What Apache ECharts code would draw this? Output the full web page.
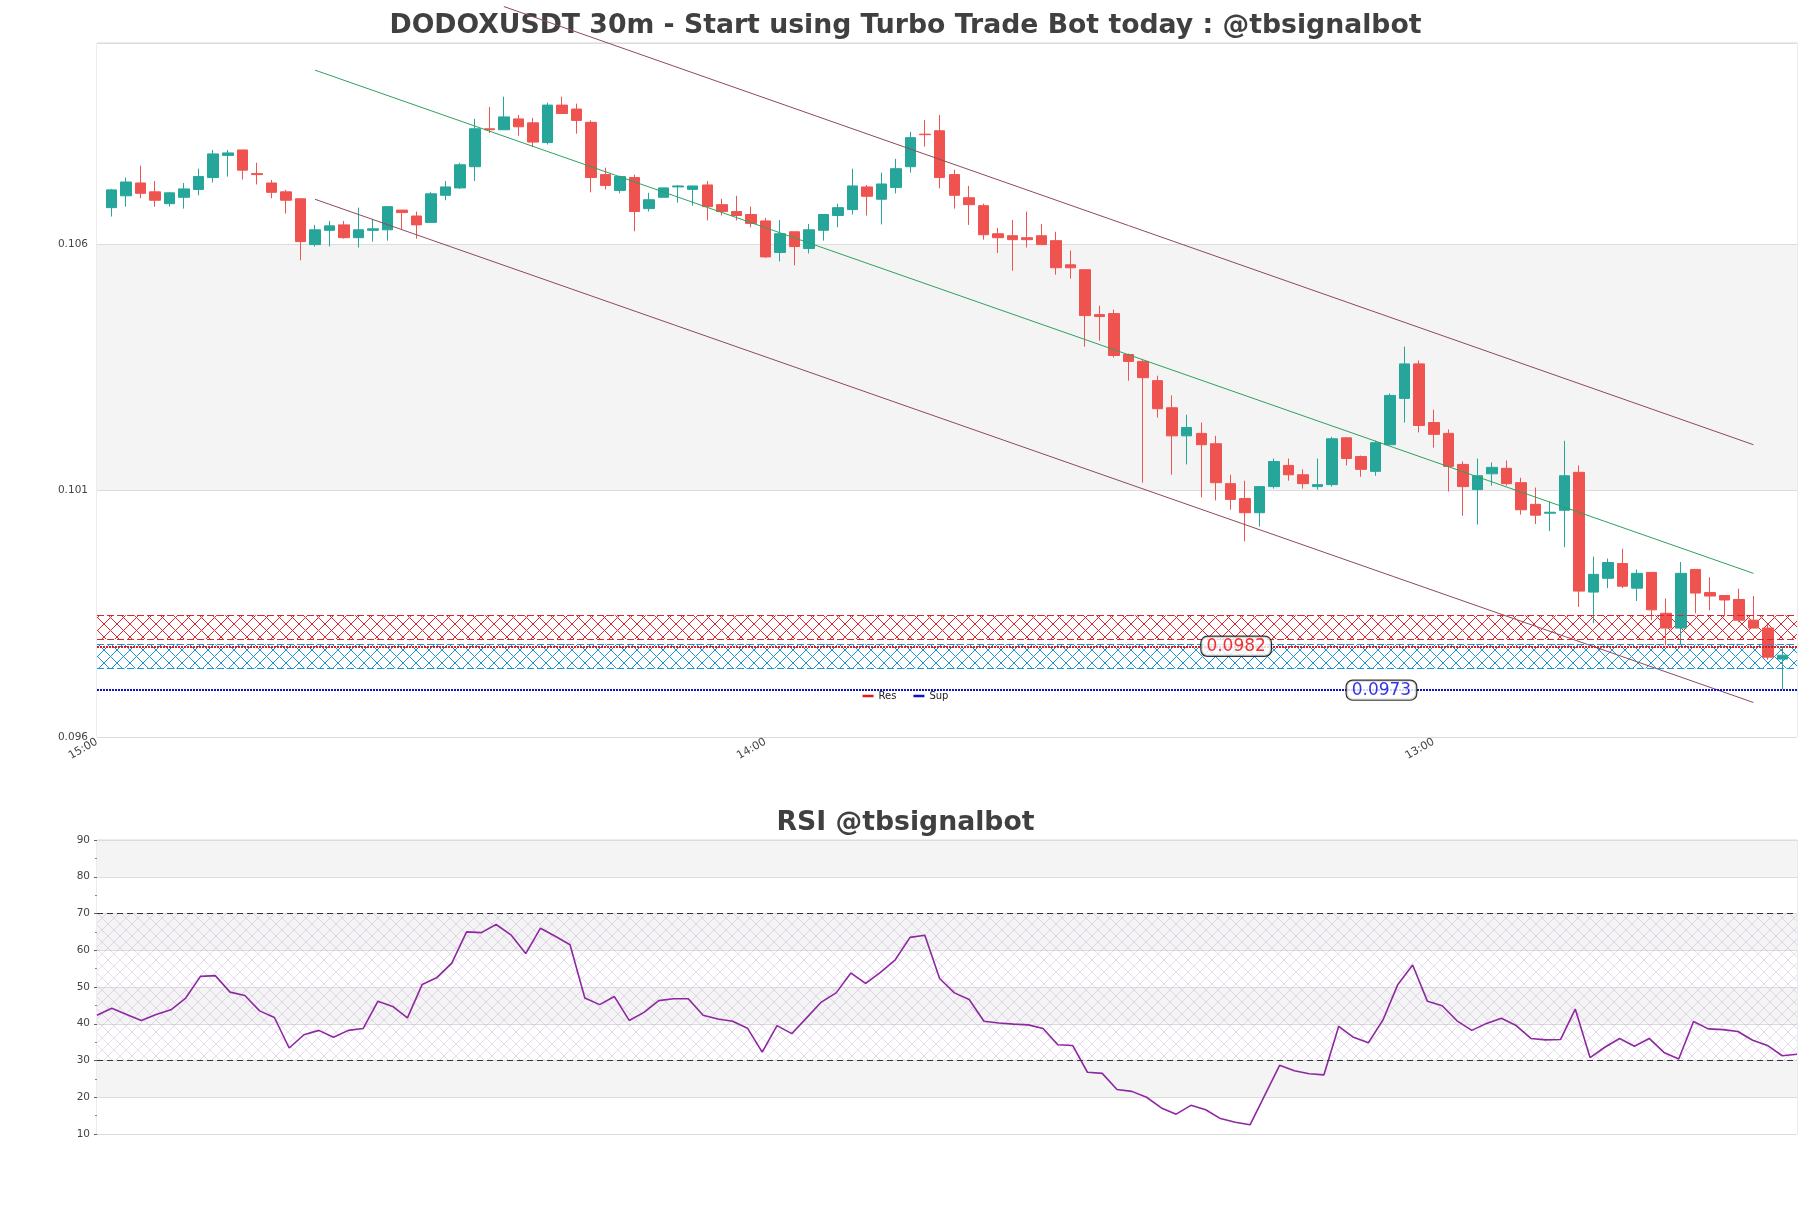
<!DOCTYPE html>
<html><head><meta charset="utf-8">
<script src="https://cdn.jsdelivr.net/npm/echarts@6/dist/echarts.min.js"></script>
<style>html,body{margin:0;padding:0;background:#fff;}#c{width:1811px;height:1208px;}</style>
</head><body><div id="c"></div>
<script>
// ---------------- DATA ----------------
const opens = [0.10674,0.10698,0.10724,0.10706,0.10682,0.10695,0.10711,0.10735,0.10780,0.10791,
0.10743,0.10724,0.10706,0.10692,0.10599,0.10628,0.10639,0.10613,0.10628,0.10629,
0.10669,0.10657,0.10644,0.10699,0.10714,0.10757,0.10834,0.10832,0.10854,0.10846,
0.10806,0.10882,0.10874,0.10847,0.10741,0.10709,0.10735,0.10672,0.10695,0.10716,
0.10711,0.10720,0.10680,0.10666,0.10660,0.10647,0.10583,0.10625,0.10591,0.10628,
0.10658,0.10670,0.10716,0.10691,0.10715,0.10757,0.10823,0.10830,0.10741,0.10694,
0.10678,0.10621,0.10617,0.10613,0.10617,0.10607,0.10558,0.10548,0.10457,0.10459,
0.10376,0.10362,0.10323,0.10268,0.10211,0.10216,0.10195,0.10114,0.10084,0.10055,
0.10108,0.10151,0.10132,0.10108,0.10112,0.10207,0.10169,0.10139,0.10193,0.10287,
0.10357,0.10238,0.10216,0.10153,0.10102,0.10134,0.10145,0.10116,0.10072,0.10054,
0.10060,0.10137,0.09894,0.09922,0.09952,0.09902,0.09934,0.09851,0.09821,0.09940,
0.09893,0.09887,0.09879,0.09837,0.09821,0.09758];
const highs = [0.10712,0.10735,0.10759,0.10728,0.10706,0.10724,0.10753,0.10791,0.10791,0.10791,
0.10765,0.10730,0.10710,0.10692,0.10639,0.10647,0.10647,0.10674,0.10651,0.10676,
0.10669,0.10666,0.10706,0.10728,0.10765,0.10854,0.10878,0.10899,0.10862,0.10856,
0.10887,0.10899,0.10885,0.10851,0.10755,0.10739,0.10741,0.10704,0.10714,0.10720,
0.10718,0.10728,0.10692,0.10698,0.10676,0.10653,0.10649,0.10625,0.10641,0.10660,
0.10682,0.10753,0.10720,0.10745,0.10773,0.10828,0.10852,0.10862,0.10751,0.10718,
0.10682,0.10633,0.10649,0.10666,0.10641,0.10625,0.10587,0.10548,0.10475,0.10467,
0.10378,0.10366,0.10333,0.10293,0.10254,0.10238,0.10211,0.10132,0.10120,0.10108,
0.10165,0.10165,0.10143,0.10165,0.10209,0.10207,0.10171,0.10201,0.10297,0.10392,
0.10364,0.10264,0.10224,0.10159,0.10165,0.10157,0.10161,0.10126,0.10106,0.10078,
0.10201,0.10151,0.09966,0.09962,0.09982,0.09940,0.09934,0.09881,0.09955,0.09940,
0.09924,0.09887,0.09901,0.09886,0.09827,0.09784];
const lows = [0.10656,0.10676,0.10693,0.10676,0.10676,0.10672,0.10699,0.10725,0.10737,0.10731,
0.10721,0.10693,0.10662,0.10567,0.10595,0.10595,0.10611,0.10593,0.10605,0.10607,
0.10631,0.10611,0.10644,0.10689,0.10712,0.10728,0.10825,0.10832,0.10820,0.10797,
0.10802,0.10865,0.10824,0.10705,0.10711,0.10703,0.10626,0.10666,0.10695,0.10684,
0.10678,0.10648,0.10658,0.10648,0.10634,0.10572,0.10565,0.10557,0.10581,0.10607,
0.10634,0.10660,0.10658,0.10640,0.10703,0.10745,0.10798,0.10713,0.10672,0.10639,
0.10609,0.10582,0.10546,0.10593,0.10599,0.10538,0.10530,0.10392,0.10404,0.10370,
0.10323,0.10116,0.10248,0.10132,0.10153,0.10086,0.10080,0.10061,0.09997,0.10027,
0.10104,0.10120,0.10104,0.10102,0.10108,0.10151,0.10128,0.10130,0.10193,0.10238,
0.10218,0.10187,0.10098,0.10049,0.10031,0.10110,0.10110,0.10051,0.10032,0.10018,
0.09985,0.09864,0.09831,0.09902,0.09902,0.09876,0.09837,0.09786,0.09788,0.09851,
0.09857,0.09845,0.09833,0.09821,0.09757,0.09697];
const closes = [0.10710,0.10726,0.10703,0.10689,0.10704,0.10712,0.10737,0.10783,0.10785,0.10750,
0.10741,0.10705,0.10689,0.10605,0.10629,0.10637,0.10613,0.10629,0.10631,0.10676,
0.10664,0.10639,0.10702,0.10716,0.10761,0.10834,0.10832,0.10858,0.10838,0.10807,
0.10882,0.10865,0.10851,0.10735,0.10719,0.10737,0.10666,0.10690,0.10714,0.10718,
0.10718,0.10676,0.10666,0.10658,0.10642,0.10574,0.10621,0.10595,0.10629,0.10660,
0.10674,0.10718,0.10697,0.10722,0.10753,0.10816,0.10822,0.10735,0.10699,0.10680,
0.10619,0.10613,0.10609,0.10609,0.10599,0.10552,0.10552,0.10455,0.10453,0.10374,
0.10362,0.10329,0.10266,0.10211,0.10228,0.10193,0.10116,0.10082,0.10055,0.10108,
0.10159,0.10132,0.10114,0.10112,0.10205,0.10165,0.10143,0.10197,0.10293,0.10357,
0.10232,0.10214,0.10149,0.10108,0.10130,0.10147,0.10114,0.10061,0.10050,0.10056,
0.10130,0.09896,0.09930,0.09954,0.09906,0.09932,0.09858,0.09821,0.09932,0.09892,
0.09886,0.09878,0.09837,0.09821,0.09762,0.09766];

const rsiValues = [42.3,44.2,42.5,40.9,42.5,43.8,47.0,52.9,53.1,48.6,
47.7,43.5,41.7,33.4,37.0,38.2,36.3,38.2,38.7,46.1,
44.7,41.6,50.7,52.6,56.5,65.0,64.8,67.0,64.2,59.1,
66.0,63.8,61.5,47.0,45.2,47.4,40.9,43.1,46.3,46.8,
46.8,42.3,41.3,40.7,38.8,32.3,39.5,37.3,41.6,45.9,
48.4,53.8,51.0,54.0,57.4,63.5,64.1,52.3,48.4,46.6,
40.7,40.2,39.9,39.7,38.7,34.3,34.1,26.8,26.5,22.1,
21.6,20.0,17.1,15.4,17.8,16.6,14.2,13.2,12.5,20.6,
28.7,27.2,26.4,26.1,39.3,36.3,34.8,41.1,50.7,56.0,
46.1,44.9,40.8,38.2,40.1,41.5,39.5,36.0,35.6,35.7,
44.0,30.8,33.6,36.0,33.9,36.0,32.2,30.4,40.6,38.6,
38.4,37.9,35.5,34.1,31.3,31.7];

// x tick labels (candle index, -1 = slot before first candle)
const xTickIndex = [-1, 45, 91];
const xTickLabels = ['15:00', '14:00', '13:00'];

// regression channel: [candle index, price] at both ends
const midLineIdx = [14, 113];   const midLineVal = [0.10953, 0.09932];
const upperLineIdx = [27, 113]; const upperLineVal = [0.11082, 0.10193];
const lowerLineIdx = [14, 113]; const lowerLineVal = [0.10691, 0.09670];

// resistance / support
const resZone = [0.09799, 0.09847];
const supZone = [0.09739, 0.09788];
const resLevel = 0.09784, supLevel = 0.09695;
const resText = '0.0982', supText = '0.0973';
const resTextIdx = 77.4, supTextIdx = 87.4;

const rsiBands = [30, 70];

// ---------------- HELPERS ----------------
function hatch(color, size, lw) {
  const c = document.createElement('canvas');
  c.width = size; c.height = size;
  const g = c.getContext('2d');
  g.strokeStyle = color; g.lineWidth = lw;
  g.beginPath();
  g.moveTo(-1, -1); g.lineTo(size + 1, size + 1);
  g.moveTo(size + 1, -1); g.lineTo(-1, size + 1);
  g.stroke();
  return { image: c, repeat: 'repeat' };
}

const N = opens.length;
const candleData = [];
for (let i = 0; i < N; i++) candleData.push([i, opens[i], closes[i], lows[i], highs[i]]);
const rsiData = rsiValues.map((v, j) => [j, v]);
const lineOf = (idx, val) => idx.map((x, k) => [x, val[k]]);

const UP = '#26a69a', DOWN = '#ef5350';
const FONT = 'DejaVu Sans';

const chart = echarts.init(document.getElementById('c'), null, { renderer: 'canvas', width: 1811, height: 1208 });

const option = {
  animation: false,
  backgroundColor: '#ffffff',
  textStyle: { fontFamily: FONT },
  title: [
    { text: 'DODOXUSDT 30m - Start using Turbo Trade Bot today : @tbsignalbot', left: 'center', top: 8,
      textStyle: { fontSize: 26.7, fontWeight: 'bold', color: '#404040', fontFamily: FONT } },
    { text: 'RSI @tbsignalbot', left: 'center', top: 805,
      textStyle: { fontSize: 26.7, fontWeight: 'bold', color: '#404040', fontFamily: FONT } }
  ],
  legend: {
    data: ['Res', 'Sup'], left: 'center', top: 688, icon: 'rect', itemWidth: 11, itemHeight: 2.5,
    itemGap: 17, backgroundColor: '#ffffff', padding: [3, 8, 3, 6],
    textStyle: { fontSize: 10, color: '#222', fontFamily: FONT }
  },
  grid: [
    { left: 97, top: 43, width: 1700, height: 694, show: true, borderColor: '#d8d8d8', borderWidth: 1, backgroundColor: 'transparent' },
    { left: 97, top: 840, width: 1700, height: 294, show: true, borderColor: '#d8d8d8', borderWidth: 1, backgroundColor: 'transparent' }
  ],
  xAxis: [
    { type: 'value', gridIndex: 0, min: -1, max: N, interval: 46,
      axisLine: { show: false }, axisTick: { show: false }, splitLine: { show: false },
      axisLabel: { rotate: 30, fontSize: 11, color: '#444', margin: 4, showMaxLabel: false,
        formatter: v => { const k = xTickIndex.indexOf(Math.round(v)); return k >= 0 ? xTickLabels[k] : ''; } } },
    { type: 'value', gridIndex: 1, min: 0, max: rsiValues.length - 1,
      axisLine: { show: false }, axisTick: { show: false }, splitLine: { show: false }, axisLabel: { show: false } }
  ],
  yAxis: [
    { type: 'value', gridIndex: 0, min: 0.096, max: 0.11008, interval: 0.005, scale: true,
      axisLine: { show: false }, axisTick: { show: false },
      axisLabel: { fontSize: 10.5, color: '#444', margin: 9, showMaxLabel: false, formatter: v => v.toFixed(3) },
      splitLine: { show: true, lineStyle: { color: '#dcdcdc', width: 1 } },
      splitArea: { show: true, areaStyle: { color: ['#ffffff', '#f4f4f4'] } } },
    { type: 'value', gridIndex: 1, min: 10, max: 90, interval: 10,
      axisLine: { show: false },
      axisTick: { show: true, length: 3, lineStyle: { color: '#666' } },
      minorTick: { show: true, splitNumber: 2, length: 2, lineStyle: { color: '#888' } },
      axisLabel: { fontSize: 10.5, color: '#444', margin: 7 },
      splitLine: { show: true, lineStyle: { color: '#dcdcdc', width: 1 } },
      splitArea: { show: true, areaStyle: { color: ['#ffffff', '#f4f4f4'] } } }
  ],
  series: [
    { name: 'Res', type: 'line', xAxisIndex: 0, yAxisIndex: 0, data: [], z: 1,
      itemStyle: { color: '#e31a1c' }, lineStyle: { color: '#e31a1c' },
      markArea: { silent: true, itemStyle: { color: hatch('#e0262b', 13, 1) },
        data: [[{ yAxis: resZone[0] }, { yAxis: resZone[1] }]] },
      markLine: { silent: true, precision: 6, symbol: ['none', 'none'], label: { show: false },
        data: [
          { yAxis: resZone[0], lineStyle: { color: '#e0262b', type: [7, 3], width: 1 } },
          { yAxis: resZone[1], lineStyle: { color: '#e0262b', type: [7, 3], width: 1 } },
          { yAxis: resLevel, lineStyle: { color: '#dd1a20', type: [2, 1], width: 2.2 } }
        ] } },
    { name: 'Sup', type: 'line', xAxisIndex: 0, yAxisIndex: 0, data: [], z: 1,
      itemStyle: { color: '#1010c8' }, lineStyle: { color: '#1010c8' },
      markArea: { silent: true, itemStyle: { color: hatch('#1f93d6', 13, 1) },
        data: [[{ yAxis: supZone[0] }, { yAxis: supZone[1] }]] },
      markLine: { silent: true, precision: 6, symbol: ['none', 'none'], label: { show: false },
        data: [
          { yAxis: supZone[0], lineStyle: { color: '#1f93d6', type: [7, 3], width: 1 } },
          { yAxis: supZone[1], lineStyle: { color: '#1f93d6', type: [7, 3], width: 1 } },
          { yAxis: supLevel, lineStyle: { color: '#1010c8', type: [2, 1], width: 2.2 } }
        ] } },
    { name: 'candles', type: 'candlestick', xAxisIndex: 0, yAxisIndex: 0, z: 3,
      data: candleData, encode: { x: 0, y: [1, 2, 3, 4] }, barWidth: 11,
      itemStyle: { color: UP, color0: DOWN, borderColor: UP, borderColor0: DOWN, borderWidth: 1 } },
    { name: 'mid', type: 'line', xAxisIndex: 0, yAxisIndex: 0, z: 4, data: lineOf(midLineIdx, midLineVal),
      showSymbol: false, lineStyle: { color: '#2ca25f', width: 1 } },
    { name: 'upper', type: 'line', xAxisIndex: 0, yAxisIndex: 0, z: 10, clip: false, data: lineOf(upperLineIdx, upperLineVal),
      showSymbol: false, lineStyle: { color: '#8e4a5c', width: 1 } },
    { name: 'lower', type: 'line', xAxisIndex: 0, yAxisIndex: 0, z: 4, data: lineOf(lowerLineIdx, lowerLineVal),
      showSymbol: false, lineStyle: { color: '#8e4a5c', width: 1 } },
    { name: 'levelLabels', type: 'scatter', xAxisIndex: 0, yAxisIndex: 0, z: 6, symbolSize: 1,
      itemStyle: { color: 'rgba(0,0,0,0)' },
      data: [
        { value: [resTextIdx, resLevel], label: { formatter: resText, color: '#ee0000' } },
        { value: [supTextIdx, supLevel], label: { formatter: supText, color: '#0000e0' } }
      ],
      label: { show: true, position: 'inside', fontSize: 17, fontFamily: FONT, backgroundColor: '#fff',
        borderColor: '#000', borderWidth: 1.2, borderRadius: 6, padding: [1, 5, 0, 5], lineHeight: 18 } },
    { name: 'RSI', type: 'line', xAxisIndex: 1, yAxisIndex: 1, z: 4, data: rsiData, showSymbol: false,
      lineStyle: { color: '#8e28a0', width: 1.6 },
      markArea: { silent: true, itemStyle: { color: hatch('rgba(170,130,200,0.35)', 12, 0.8) },
        data: [[{ yAxis: rsiBands[0] }, { yAxis: rsiBands[1] }]] },
      markLine: { silent: true, symbol: ['none', 'none'], label: { show: false },
        lineStyle: { color: '#333', type: [6, 4], width: 1.2 },
        data: [{ yAxis: rsiBands[0] }, { yAxis: rsiBands[1] }] } }
  ]
};
chart.setOption(option);
</script>
</body></html>
